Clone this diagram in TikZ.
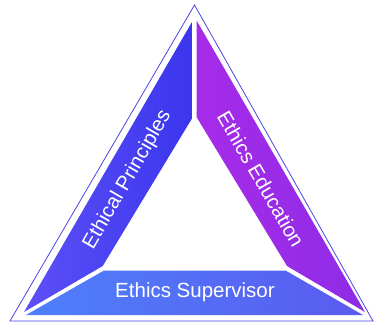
\documentclass[tikz,border=0pt]{standalone}
\usepackage{fontspec}
\setmainfont{Liberation Sans}
\definecolor{outline}{HTML}{4A44E8}
\definecolor{lblueL}{HTML}{5C50F7}
\definecolor{lblueR}{HTML}{3B36EE}
\definecolor{purL}{HTML}{A62BE9}
\definecolor{purR}{HTML}{8E2CE6}
\definecolor{botL}{HTML}{4E80FB}
\definecolor{botR}{HTML}{5A5BEF}
\tikzset{
  seglabel/.style={text=white, font=\fontsize{20.5}{24}\selectfont, inner sep=0pt},
}
\begin{document}
\begin{tikzpicture}[x=1pt,y=1pt]
\useasboundingbox (0,0) rectangle (374,322);
% outer triangle
\draw[outline, line width=0.8pt, line join=miter] (194.5,317) -- (10,1) -- (373,1) -- cycle;
% left segment
\shade[left color=lblueL, right color=lblueR] (192.7,301.3) -- (192.7,204.7) -- (102.7,56) -- (24,10) -- cycle;
% right segment
\shade[left color=purL, right color=purR] (196.7,301.3) -- (196.7,204.7) -- (287,56) -- (365,10) -- cycle;
% bottom segment
\shade[left color=botL, right color=botR] (104,51.5) -- (285.5,51.5) -- (363,7) -- (26,7) -- cycle;
% labels
\node[seglabel, rotate=60] (ep) at (127.5,142) {Ethical Principles};
\node[seglabel, rotate=-60] (ee) at (261,143) {Ethics Education};
\node[seglabel] (es) at (195,30) {Ethics Supervisor};
\end{tikzpicture}
\end{document}
